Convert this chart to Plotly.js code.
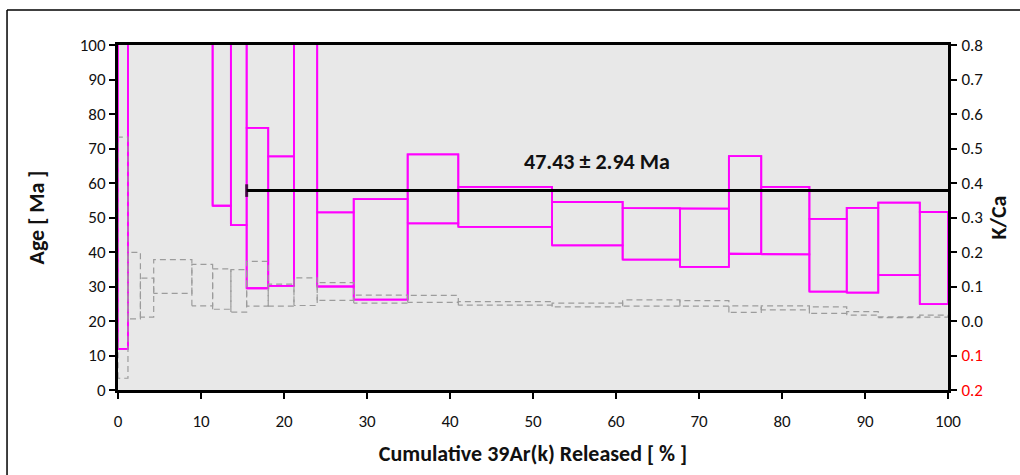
<!DOCTYPE html>
<html>
<head>
<meta charset="utf-8">
<script src="https://cdn.plot.ly/plotly-3.0.1.min.js"></script>
<style>html,body{margin:0;padding:0;background:#fff;}#chart{width:1020px;height:475px;}</style>
</head>
<body>
<div id="chart"></div>
<script>
// Step boundaries (cumulative 39Ar(k) released, %)
const cumPct = [0, 1.2, 2.7, 4.3, 8.9, 11.4, 13.6, 15.5, 18.1, 21.2, 24.0, 28.4, 34.9, 41.0, 52.3, 60.8, 67.7, 73.6, 77.5, 83.3, 87.8, 91.6, 96.6, 100];
// Age (Ma) lower / upper bounds per step (values above 100 are off-scale)
const ageLow  = [11.9, 120, 120, 120, 120, 53.4, 47.8, 29.5, 30.2, 120, 30.0, 26.2, 48.3, 47.3, 41.9, 37.8, 35.7, 39.5, 39.3, 28.5, 28.2, 33.3, 24.9];
const ageHigh = [150, 200, 200, 200, 200, 150, 150, 76.0, 67.7, 200, 51.5, 55.3, 68.3, 58.9, 54.5, 52.7, 52.6, 67.8, 58.9, 49.6, 52.8, 54.3, 51.6];
// K/Ca lower / upper bounds per step
const kcaLow  = [-0.166, 0.006, 0.011, 0.080, 0.044, 0.034, 0.026, 0.043, 0.043, 0.045, 0.060, 0.052, 0.054, 0.046, 0.041, 0.043, 0.043, 0.025, 0.032, 0.022, 0.017, 0.010, 0.011];
const kcaHigh = [0.533, 0.199, 0.124, 0.178, 0.164, 0.151, 0.149, 0.173, 0.107, 0.125, 0.111, 0.075, 0.074, 0.056, 0.052, 0.061, 0.059, 0.044, 0.044, 0.041, 0.027, 0.012, 0.017];
// Plateau
const plateauFrom = 15.5;
const plateauTo = 100;
const plateauLevel = 57.8;
const plateauLabel = '47.43 ± 2.94 Ma';
const plateauLabelPos = [57.7, 66.1];
// Tick labels
const xTicks = [0, 10, 20, 30, 40, 50, 60, 70, 80, 90, 100];
const yTicks = [0, 10, 20, 30, 40, 50, 60, 70, 80, 90, 100];
const kcaTickVals = [-0.2, -0.1, 0.0, 0.1, 0.2, 0.3, 0.4, 0.5, 0.6, 0.7, 0.8];
const kcaTickText = ['<span style="color:#ff0000">0.2</span>', '<span style="color:#ff0000">0.1</span>', '0.0', '0.1', '0.2', '0.3', '0.4', '0.5', '0.6', '0.7', '0.8'];

function boxes(lo, hi) {
  const xs = [], ys = [];
  for (let i = 0; i < lo.length; i++) {
    const x0 = cumPct[i], x1 = cumPct[i + 1];
    xs.push(x0, x0, x1, x1, x0, null);
    ys.push(lo[i], hi[i], hi[i], lo[i], lo[i], null);
  }
  return {x: xs, y: ys};
}
function stairs(v) {
  const xs = [], ys = [];
  for (let i = 0; i < v.length; i++) {
    xs.push(cumPct[i], cumPct[i + 1]);
    ys.push(v[i], v[i]);
  }
  return {x: xs, y: ys};
}

const kb = boxes(kcaLow, kcaHigh);
const ab = boxes(ageLow, ageHigh);
const su = stairs(ageHigh), sl = stairs(ageLow);
const MAG = '#ff00ff';

const traces = [
  {x: kb.x, y: kb.y, yaxis: 'y2', mode: 'lines', line: {color: '#9c9c9c', width: 1.2, dash: '6px,4px'}, connectgaps: false},
  {x: ab.x, y: ab.y, mode: 'lines', line: {color: MAG, width: 1.8}, connectgaps: false},
  {x: su.x, y: su.y, mode: 'lines', line: {color: MAG, width: 1.8}},
  {x: sl.x, y: sl.y, mode: 'lines', line: {color: MAG, width: 1.8}},
  {x: [plateauFrom, plateauTo], y: [plateauLevel, plateauLevel], mode: 'lines+markers',
   line: {color: '#000', width: 3},
   marker: {symbol: 'line-ns-open', size: [9, 0], color: '#000', line: {color: '#000', width: 3}}}
];

const FONT = 'Carlito, Lato, "Open Sans", sans-serif';
const axisCommon = {
  showline: true, linecolor: '#000', linewidth: 3,
  ticks: 'outside', ticklen: 6, tickwidth: 2, tickcolor: '#000',
  showgrid: false, zeroline: false,
  tickfont: {family: FONT, size: 17, color: '#111'}
};

const layout = {
  width: 1020, height: 475,
  margin: {l: 118, r: 72, t: 45, b: 85},
  paper_bgcolor: '#ffffff', plot_bgcolor: '#e8e8e8',
  showlegend: false,
  font: {family: FONT, color: '#111'},
  xaxis: Object.assign({}, axisCommon, {
    range: [0, 100], tickvals: xTicks, ticktext: xTicks.map(String), mirror: true,
    ticklabelstandoff: 8,
    title: {text: '<b>Cumulative 39Ar(k) Released [ % ]</b>', font: {family: FONT, size: 22, color: '#111'}, standoff: 15}
  }),
  yaxis: Object.assign({}, axisCommon, {
    range: [0, 100], tickvals: yTicks, ticktext: yTicks.map(String),
    ticklabelstandoff: 0,
    title: {text: '<b>Age [ Ma ]</b>', font: {family: FONT, size: 22, color: '#111'}, standoff: 30}
  }),
  yaxis2: Object.assign({}, axisCommon, {
    overlaying: 'y', side: 'right', range: [-0.2, 0.8],
    tickvals: kcaTickVals, ticktext: kcaTickText,
    ticklabelstandoff: 1,
    title: {text: '<b>K/Ca</b>', font: {family: FONT, size: 22, color: '#111'}, standoff: 9}
  }),
  annotations: [{
    x: plateauLabelPos[0], y: plateauLabelPos[1], xref: 'x', yref: 'y',
    text: '<b>' + plateauLabel + '</b>', showarrow: false,
    font: {family: FONT, size: 22, color: '#111'}
  }],
  shapes: [
    {type: 'line', xref: 'paper', yref: 'paper', x0: -0.1337, x1: -0.1337, y0: 1.1014, y1: -0.3, line: {color: '#000', width: 1.5}},
    {type: 'line', xref: 'paper', yref: 'paper', x0: -0.1337, x1: 1.2, y0: 1.1014, y1: 1.1014, line: {color: '#000', width: 1.5}}
  ]
};

Plotly.newPlot('chart', traces, layout, {staticPlot: true, displayModeBar: false});
</script>
</body>
</html>
